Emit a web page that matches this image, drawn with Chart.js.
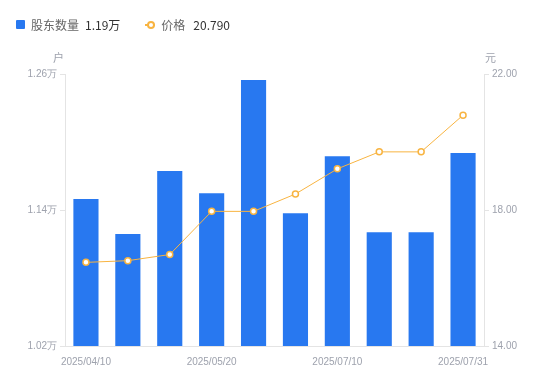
<!DOCTYPE html>
<html>
<head>
<meta charset="utf-8">
<script src="https://cdn.jsdelivr.net/npm/chart.js@4"></script>
<style>
  body { margin: 0; background: #fff; font-family: "Noto Sans CJK SC", "Noto Sans", sans-serif; }
  #wrap { position: relative; width: 550px; height: 381px; }
  #chart { position: absolute; left: 0; top: 0; }
  .legend { position: absolute; top: 16px; left: 16px; font-size: 12px; color: #666; display: flex; align-items: center; white-space: nowrap; }
  .legend .sq { width: 9px; height: 9px; background: #2878f0; border-radius: 1px; margin-right: 6px; }
  .legend .ln { position: relative; width: 10px; height: 2px; background: #f8b441; margin-right: 6px; }
  .legend .ln::after { content: ''; position: absolute; left: 2px; top: -3px; width: 4px; height: 4px; border: 2px solid #f8b441; border-radius: 50%; background: #fff; }
  .legend .val { color: #333; margin-left: 6px; margin-right: 25px; }
  .legend .val2 { margin-left: 8px; }
  .unit { position: absolute; top: 49px; font-size: 11px; color: #9ea2ad; }
</style>
</head>
<body>
<div id="wrap">
  <canvas id="chart" width="550" height="381"></canvas>
  <div class="legend">
    <span class="sq"></span><span>股东数量</span><span class="val">1.19万</span>
    <span class="ln"></span><span>价格</span><span class="val val2">20.790</span>
  </div>
  <span class="unit" style="left:53px">户</span>
  <span class="unit" style="left:485px">元</span>
</div>
<script>
// ── data ──────────────────────────────────────
const dates = ['2025/04/10', '2025/04/20', '2025/04/30', '2025/05/20', '2025/05/30',
               '2025/06/20', '2025/07/10', '2025/07/15', '2025/07/20', '2025/07/31'];
const holders = [11497, 11188, 11744, 11547, 12547, 11371, 11874, 11203, 11203, 11903];
const prices  = [16.46, 16.51, 16.69, 17.96, 17.96, 18.47, 19.21, 19.71, 19.71, 20.79];
const holderTicks = [10200, 11400, 12600];
const priceTicks  = [14, 18, 22];

const tickColor = '#9ea2ad';
const axisColor = '#e4e4e4';

new Chart(document.getElementById('chart').getContext('2d'), {
  data: {
    labels: dates,
    datasets: [
      {
        type: 'line',
        label: '价格',
        data: prices,
        yAxisID: 'yPrice',
        borderColor: '#f8b441',
        borderWidth: 1,
        pointRadius: 3,
        pointBorderWidth: 1.5,
        pointBackgroundColor: '#fff',
        pointBorderColor: '#f8b441',
        tension: 0,
        order: 0,
      },
      {
        type: 'bar',
        label: '股东数量',
        data: holders,
        yAxisID: 'yHolders',
        backgroundColor: '#2878f0',
        barPercentage: 0.6,
        categoryPercentage: 1,
        order: 1,
      },
    ],
  },
  options: {
    responsive: false,
    animation: false,
    layout: { padding: { top: 74, left: 0, right: 0, bottom: 0 } },
    plugins: { legend: { display: false }, tooltip: { enabled: false } },
    scales: {
      x: {
        grid: { display: false },
        border: { display: true, color: axisColor },
        afterFit: s => { s.height = 35; },
        ticks: {
          autoSkip: false,
          maxRotation: 0,
          padding: 2,
          color: tickColor,
          font: { size: 10 },
          callback: (v, i) => (i % 3 === 0 ? dates[i] : ''),
        },
      },
      yHolders: {
        position: 'left',
        min: 10200,
        max: 12600,
        afterFit: s => { s.width = 65; },
        afterBuildTicks: s => { s.ticks = holderTicks.map(v => ({ value: v })); },
        grid: { drawOnChartArea: false, drawTicks: true, tickLength: 5, color: axisColor },
        border: { color: axisColor },
        ticks: {
          color: tickColor,
          font: { size: 10 },
          padding: 3,
          callback: v => (v / 10000).toFixed(2) + '万',
        },
      },
      yPrice: {
        position: 'right',
        min: 14,
        max: 22,
        afterFit: s => { s.width = 66; },
        afterBuildTicks: s => { s.ticks = priceTicks.map(v => ({ value: v })); },
        grid: { drawOnChartArea: false, drawTicks: true, tickLength: 5, color: axisColor },
        border: { color: axisColor },
        ticks: {
          color: tickColor,
          font: { size: 10 },
          padding: 3,
          callback: v => v.toFixed(2),
        },
      },
    },
  },
});
</script>
</body>
</html>
